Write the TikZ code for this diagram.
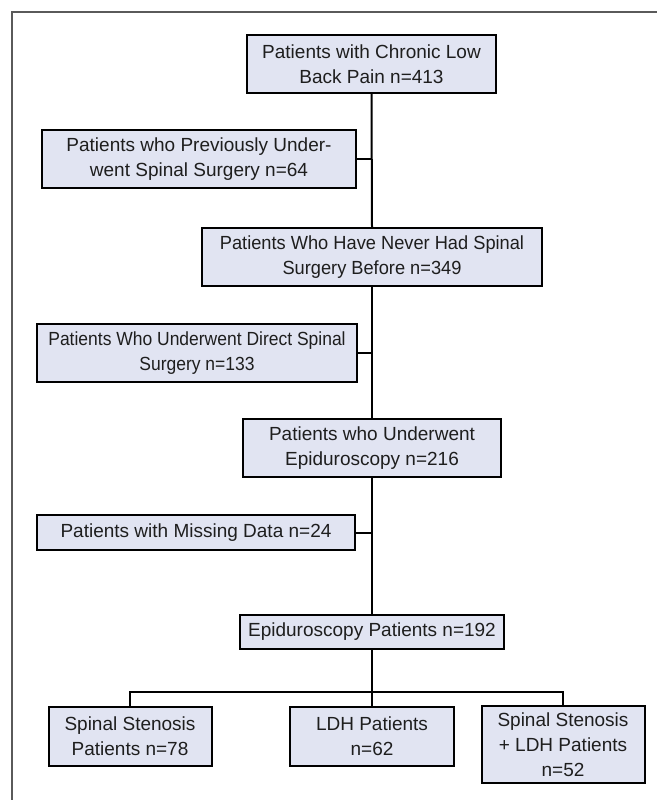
\documentclass[tikz,border=0pt]{standalone}
\usepackage{fontspec}
\setmainfont{Liberation Sans}
\definecolor{boxfill}{HTML}{E1E4F2}
\definecolor{txt}{HTML}{1E1E1E}
\definecolor{frame}{HTML}{5A5A5A}
\begin{document}
\begin{tikzpicture}[x=1pt,y=-1pt,
  flowbox/.style={draw=black, line width=2pt, fill=boxfill, text=txt, align=center,
    inner sep=0pt, font=\fontsize{19}{25}\selectfont},
  conn/.style={draw=black, line width=2pt}]
\useasboundingbox (0,0) rectangle (657,800);
\fill[white] (0,0) rectangle (657,800);
\draw[frame, line width=1.5pt] (12,800) -- (12,12) -- (657,12);

\node[flowbox, minimum width=249pt, minimum height=58pt] (b1) at (371.5,64) {Patients with Chronic Low\\Back Pain n=413};
\node[flowbox, minimum width=314pt, minimum height=58pt] (b2) at (199,159) {Patients who Previously Under-\\went Spinal Surgery n=64};
\node[flowbox, minimum width=340pt, minimum height=58pt,
  font=\fontsize{19}{25}\selectfont\addfontfeatures{FakeStretch=0.96}] (b3) at (372,257) {Patients Who Have Never Had Spinal\\Surgery Before n=349};
\node[flowbox, minimum width=320pt, minimum height=58pt,
  font=\fontsize{19}{25}\selectfont\addfontfeatures{FakeStretch=0.92}] (b4) at (197,353) {Patients Who Underwent Direct Spinal\\Surgery n=133};
\node[flowbox, minimum width=258pt, minimum height=58pt] (b5) at (372,448) {Patients who Underwent\\Epiduroscopy n=216};
\node[flowbox, minimum width=318pt, minimum height=35pt] (b6) at (196,532.5) {Patients with Missing Data n=24};
\node[flowbox, minimum width=264pt, minimum height=34pt] (b7) at (372,632) {Epiduroscopy Patients n=192};
\node[flowbox, minimum width=163pt, minimum height=59pt] (ss) at (130,736.5) {Spinal Stenosis\\Patients n=78};
\node[flowbox, minimum width=164pt, minimum height=59pt] (ldh) at (372,736.5) {LDH Patients\\n=62};
\node[flowbox, minimum width=163pt, minimum height=77pt] (combo) at (563,744.5) {Spinal Stenosis\\+ LDH Patients\\n=52};

\draw[conn] (b1.south) -- (b3.north);
\draw[conn] (b2.east) -- (b2.east -| b1.south);
\draw[conn] (b3.south) -- (b5.north);
\draw[conn] (b4.east) -- (b4.east -| b3.south);
\draw[conn] (b5.south) -- (b7.north);
\draw[conn] (b6.east) -- (b6.east -| b5.south);
\draw[conn] (b7.south) -- (ldh.north);
\draw[conn] (ss.north) -- ++(0,-14) -| (combo.north);
\end{tikzpicture}
\end{document}
